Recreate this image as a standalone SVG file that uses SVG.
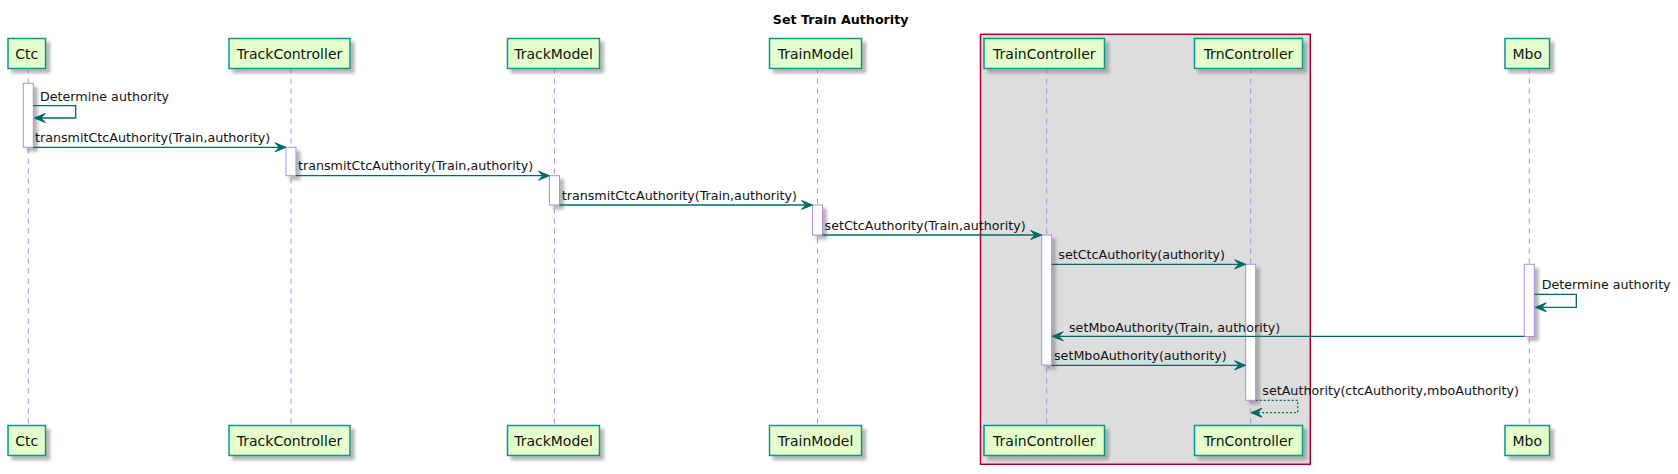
<svg xmlns="http://www.w3.org/2000/svg" width="1678" height="474" viewBox="0 0 1678 474">
<style>
.pbox{fill:#E4FFCC;stroke:#009A90;stroke-width:1.5}
.ptxt{font-family:"DejaVu Sans",sans-serif;font-size:14px;fill:#111111;text-anchor:middle}
.life{stroke:#B28CDB;stroke-width:1;stroke-dasharray:5,5;fill:none}
.act{fill:#FFFFFF;stroke:#B28CDB;stroke-width:1}
.msg{stroke:#006B66;stroke-width:1.3;fill:none}
.dash{stroke-dasharray:2,2}
.head{fill:#006B66;stroke:#006B66;stroke-width:1}
.mtxt{font-family:"DejaVu Sans",sans-serif;font-size:12.7px;fill:#111111}
.title{font-family:"DejaVu Sans",sans-serif;font-size:12.7px;font-weight:bold;fill:#000;text-anchor:middle}
</style>
<defs>
<filter id="sh" x="-1" y="-1" width="3" height="3">
<feGaussianBlur in="SourceAlpha" stdDeviation="1.8"/>
<feColorMatrix type="matrix" values="0 0 0 0 0.25  0 0 0 0 0.25  0 0 0 0 0.25  0 0 0 0.6 0"/>
<feOffset dx="4" dy="4" result="b"/>
<feMerge><feMergeNode in="b"/><feMergeNode in="SourceGraphic"/></feMerge>
</filter>
</defs>
<rect width="1678" height="474" fill="#FFFFFF"/>
<text class="title" x="840.7" y="24">Set Train Authority</text>
<g id="box-group">
<rect x="980.5" y="34.3" width="329.8" height="430" fill="#DDDDDD" stroke="#A80036" stroke-width="1.5"/>
</g>
<g id="Ctc">
<line class="life" x1="28.3" y1="68.5" x2="28.3" y2="425.5"/>
<rect class="pbox" x="8" y="38.5" width="37.5" height="30" filter="url(#sh)"/>
<text class="ptxt" x="26.7" y="59.3">Ctc</text>
<rect class="pbox" x="8" y="425.5" width="37.5" height="30" filter="url(#sh)"/>
<text class="ptxt" x="26.7" y="446.3">Ctc</text>
<rect class="act" x="23.3" y="83.3" width="10" height="64" filter="url(#sh)"/>
</g>
<g id="TrackController">
<line class="life" x1="291" y1="68.5" x2="291" y2="425.5"/>
<rect class="pbox" x="229" y="38.5" width="121" height="30" filter="url(#sh)"/>
<text class="ptxt" x="289.5" y="59.3">TrackController</text>
<rect class="pbox" x="229" y="425.5" width="121" height="30" filter="url(#sh)"/>
<text class="ptxt" x="289.5" y="446.3">TrackController</text>
<rect class="act" x="286" y="147.3" width="10" height="28.4" filter="url(#sh)"/>
</g>
<g id="TrackModel">
<line class="life" x1="554.5" y1="68.5" x2="554.5" y2="425.5"/>
<rect class="pbox" x="507.5" y="38.5" width="92" height="30" filter="url(#sh)"/>
<text class="ptxt" x="553.5" y="59.3">TrackModel</text>
<rect class="pbox" x="507.5" y="425.5" width="92" height="30" filter="url(#sh)"/>
<text class="ptxt" x="553.5" y="446.3">TrackModel</text>
<rect class="act" x="549.5" y="175.7" width="10" height="29.3" filter="url(#sh)"/>
</g>
<g id="TrainModel">
<line class="life" x1="817.5" y1="68.5" x2="817.5" y2="425.5"/>
<rect class="pbox" x="769.5" y="38.5" width="92" height="30" filter="url(#sh)"/>
<text class="ptxt" x="815.5" y="59.3">TrainModel</text>
<rect class="pbox" x="769.5" y="425.5" width="92" height="30" filter="url(#sh)"/>
<text class="ptxt" x="815.5" y="446.3">TrainModel</text>
<rect class="act" x="812.5" y="205" width="10" height="30" filter="url(#sh)"/>
</g>
<g id="TrainController">
<line class="life" x1="1046.7" y1="68.5" x2="1046.7" y2="425.5"/>
<rect class="pbox" x="984" y="38.5" width="120.5" height="30" filter="url(#sh)"/>
<text class="ptxt" x="1044.3" y="59.3">TrainController</text>
<rect class="pbox" x="984" y="425.5" width="120.5" height="30" filter="url(#sh)"/>
<text class="ptxt" x="1044.3" y="446.3">TrainController</text>
<rect class="act" x="1041.7" y="235" width="10" height="130" filter="url(#sh)"/>
</g>
<g id="TrnController">
<line class="life" x1="1250.7" y1="68.5" x2="1250.7" y2="425.5"/>
<rect class="pbox" x="1194.5" y="38.5" width="108" height="30" filter="url(#sh)"/>
<text class="ptxt" x="1248.5" y="59.3">TrnController</text>
<rect class="pbox" x="1194.5" y="425.5" width="108" height="30" filter="url(#sh)"/>
<text class="ptxt" x="1248.5" y="446.3">TrnController</text>
<rect class="act" x="1245.7" y="264.3" width="10" height="136" filter="url(#sh)"/>
</g>
<g id="Mbo">
<line class="life" x1="1529.3" y1="68.5" x2="1529.3" y2="425.5"/>
<rect class="pbox" x="1505" y="38.5" width="44.5" height="30" filter="url(#sh)"/>
<text class="ptxt" x="1527.3" y="59.3">Mbo</text>
<rect class="pbox" x="1505" y="425.5" width="44.5" height="30" filter="url(#sh)"/>
<text class="ptxt" x="1527.3" y="446.3">Mbo</text>
<rect class="act" x="1524.3" y="264.3" width="10" height="72.2" filter="url(#sh)"/>
</g>
<g id="connectors">
<polyline class="msg" points="33.3,105.7 75.7,105.7 75.7,118 36,118"/>
<polygon class="head" points="34.3,118 45.3,113.5 41,118 45.3,122.5"/>
<text class="mtxt" x="40" y="100.7">Determine authority</text>
<line class="msg" x1="33.3" y1="147.3" x2="283" y2="147.3"/>
<polygon class="head" points="286,147.3 275,142.8 279.3,147.3 275,151.8"/>
<text class="mtxt" x="35" y="141.7">transmitCtcAuthority(Train,authority)</text>
<line class="msg" x1="296" y1="175.7" x2="546.5" y2="175.7"/>
<polygon class="head" points="549.5,175.7 538.5,171.2 542.8,175.7 538.5,180.2"/>
<text class="mtxt" x="298" y="170.3">transmitCtcAuthority(Train,authority)</text>
<line class="msg" x1="559.5" y1="205" x2="809.5" y2="205"/>
<polygon class="head" points="812.5,205 801.5,200.5 805.8,205 801.5,209.5"/>
<text class="mtxt" x="561.7" y="199.8">transmitCtcAuthority(Train,authority)</text>
<line class="msg" x1="822.5" y1="235" x2="1038.7" y2="235"/>
<polygon class="head" points="1041.7,235 1030.7,230.5 1035,235 1030.7,239.5"/>
<text class="mtxt" x="824.6" y="229.8">setCtcAuthority(Train,authority)</text>
<line class="msg" x1="1051.7" y1="264.3" x2="1242.7" y2="264.3"/>
<polygon class="head" points="1245.7,264.3 1234.7,259.8 1239,264.3 1234.7,268.8"/>
<text class="mtxt" x="1058.3" y="259.3">setCtcAuthority(authority)</text>
<polyline class="msg" points="1534.3,294.3 1576.3,294.3 1576.3,307.3 1537.3,307.3"/>
<polygon class="head" points="1535.3,307.3 1546.3,302.8 1542,307.3 1546.3,311.8"/>
<text class="mtxt" x="1541.7" y="288.6">Determine authority</text>
<line class="msg" x1="1524.3" y1="336.3" x2="1055" y2="336.3"/>
<polygon class="head" points="1052.2,336.3 1063.2,331.8 1058.9,336.3 1063.2,340.8"/>
<text class="mtxt" x="1069" y="331.7">setMboAuthority(Train, authority)</text>
<line class="msg" x1="1051.7" y1="365.3" x2="1242.7" y2="365.3"/>
<polygon class="head" points="1245.7,365.3 1234.7,360.8 1239,365.3 1234.7,369.8"/>
<text class="mtxt" x="1054" y="360">setMboAuthority(authority)</text>
<polyline class="msg dash" points="1255.7,400.3 1297.7,400.3 1297.7,412.7 1254,412.7"/>
<polygon class="head" points="1251,412.7 1262,408.2 1257.7,412.7 1262,417.2"/>
<text class="mtxt" x="1262.3" y="395">setAuthority(ctcAuthority,mboAuthority)</text>
</g>
</svg>
